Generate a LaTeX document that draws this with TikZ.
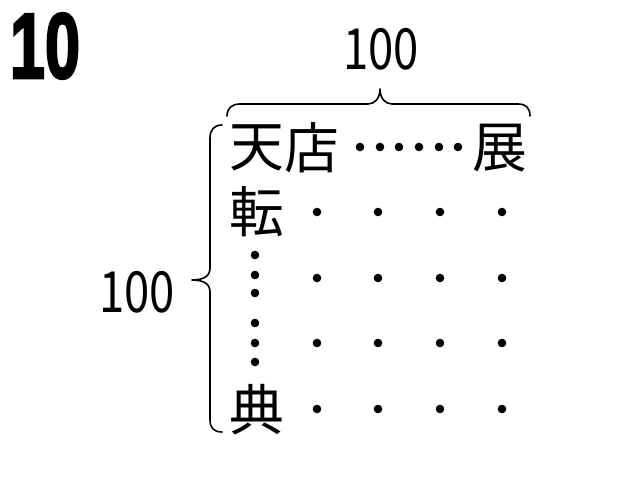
\documentclass[tikz,border=0pt]{standalone}
\usepackage{fontspec}
\newfontfamily\jpfont{Noto Sans CJK JP}
\newfontfamily\numfont[BoldFeatures={FakeBold=3}]{Liberation Sans}
\usetikzlibrary{positioning}

\tikzset{
  kanji/.style={inner sep=0pt, font=\jpfont\fontsize{55}{55}\selectfont},
  count/.style={inner sep=0pt, xscale=0.8, font=\jpfont\fontsize{57}{57}\selectfont},
  brace/.style={line width=1.6bp, line cap=round, line join=round}
}

\begin{document}
\begin{tikzpicture}[x=1bp,y=-1bp]
  \useasboundingbox [fill=white] (0,0) rectangle (639,480);

  \draw [xshift=45bp,yshift=-46bp] node[inner sep=0pt, xscale=0.68, font=\numfont\bfseries\fontsize{93}{93}\selectfont] (num) {10};

  % the corner characters
  \node[kanji] (ten) at (257,148) {天};
  \node[kanji, right=0pt of ten] (mise) {店};
  \node[kanji] (ten2) at (500,148) {展};
  \node[kanji] (kai) at (257,212) {転};
  \node[kanji] (ten3) at (257,410) {典};

  % the row and the column of dots
  \foreach \x in {360,380,399,419,439,458}
    \fill (\x,147) circle (4.3bp);
  \foreach \y in {255,275,293,323,343,362}
    \fill (255,\y) circle (4.3bp);

  % the grid
  \foreach \x in {317,378,440,502}
    \foreach \y in {212,278,343,409}
      \fill (\x,\y) circle (4.3bp);

  % braces
  \draw [brace] (227,116) .. controls (227,108) and (232,104) .. (240,104) -- (368,104)
    .. controls (375,104) and (380,98) .. (380,89)
    .. controls (380,98) and (385,104) .. (392,104) -- (518,104)
    .. controls (526,104) and (530,108) .. (530,116);
  \draw [brace] (222,125) .. controls (214,125) and (210,130) .. (210,138) -- (210,268)
    .. controls (210,276) and (204,280) .. (192,280)
    .. controls (204,280) and (210,284) .. (210,292) -- (210,420)
    .. controls (210,428) and (214,432) .. (222,432);

  \node[count] (wide) at (381,49) {100};
  \node[count] (high) at (137,292) {100};
\end{tikzpicture}
\end{document}
